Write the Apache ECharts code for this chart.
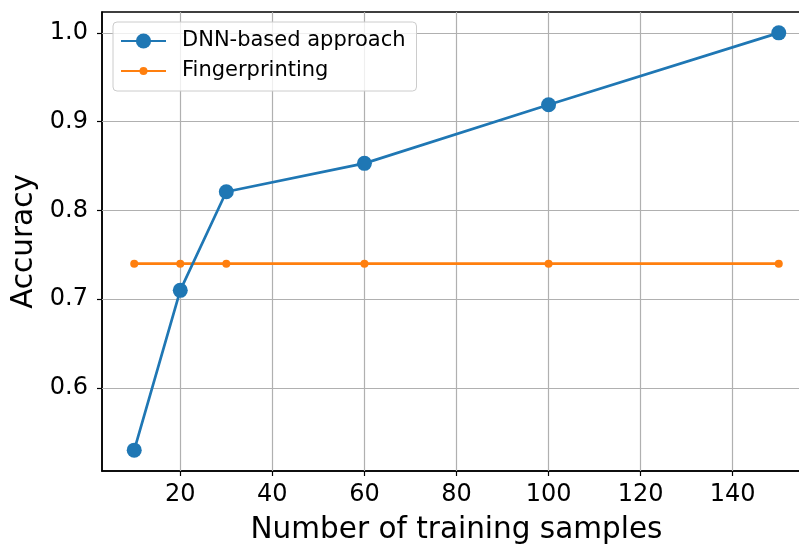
<!DOCTYPE html>
<html>
<head>
<meta charset="utf-8">
<script src="https://cdn.jsdelivr.net/npm/echarts@6/dist/echarts.min.js"></script>
<style>
html,body{margin:0;padding:0;background:#fff;}
#chart{width:799px;height:547px;}
</style>
</head>
<body>
<div id="chart"></div>
<script>
const trainingSamples = [10, 20, 30, 60, 100, 150];
const dnnAccuracy = [0.53, 0.71, 0.821, 0.853, 0.919, 1.0];
const fingerprintAccuracy = [0.74, 0.74, 0.74, 0.74, 0.74, 0.74];
const xTicks = [20, 40, 60, 80, 100, 120, 140];
const yTicks = [0.6, 0.7, 0.8, 0.9, 1.0];
const seriesNames = ['DNN-based approach', 'Fingerprinting'];

const FONT = 'DejaVu Sans';
const chart = echarts.init(document.getElementById('chart'), null, {renderer: 'canvas'});

function pairs(xs, ys) { return xs.map((x, i) => [x, ys[i]]); }

const legendText = {fontFamily: FONT, fontSize: 21, color: '#000', padding: [0, 0, 0, 11]};

const gridLines = xTicks.map(v => ({xAxis: v})).concat(yTicks.map(v => ({yAxis: v})));

chart.setOption({
  animation: false,
  backgroundColor: '#ffffff',
  grid: {
    left: 102, top: 12, width: 709, height: 459,
    outerBoundsMode: 'none', containLabel: false,
    show: true, borderColor: '#000000', borderWidth: 1.5, backgroundColor: 'transparent'
  },
  legend: [
    {
      orient: 'vertical',
      left: 113, top: 22,
      padding: [8.5, 11, 39.5, 7],
      itemWidth: 45, itemHeight: 19,
      backgroundColor: 'rgba(255,255,255,0.8)',
      borderColor: '#cccccc', borderWidth: 1, borderRadius: 4,
      textStyle: legendText,
      data: [seriesNames[0]],
      selectedMode: false, z: 5
    },
    {
      orient: 'vertical',
      left: 120, top: 60.5,
      padding: 0,
      itemWidth: 45, itemHeight: 10,
      textStyle: legendText,
      data: [seriesNames[1]],
      selectedMode: false, z: 6
    }
  ],
  xAxis: {
    type: 'value', min: 3, max: 157,
    name: 'Number of training samples', nameLocation: 'middle', nameGap: 44,
    nameTextStyle: {fontFamily: FONT, fontSize: 29.5, color: '#000'},
    axisLine: {show: true, onZero: false, lineStyle: {color: '#000', width: 1.5}},
    axisTick: {show: true, inside: false, length: 5, lineStyle: {color: '#000', width: 1.2}, customValues: xTicks},
    axisLabel: {fontFamily: FONT, fontSize: 24, color: '#000', margin: 12, customValues: xTicks, formatter: v => String(v)},
    splitLine: {show: false}
  },
  yAxis: {
    type: 'value', min: 0.5065, max: 1.0235,
    name: 'Accuracy', nameLocation: 'middle', nameGap: 60, nameRotate: 90,
    nameTextStyle: {fontFamily: FONT, fontSize: 29.5, color: '#000'},
    axisLine: {show: true, onZero: false, lineStyle: {color: '#000', width: 1.5}},
    axisTick: {show: true, inside: false, length: 5, lineStyle: {color: '#000', width: 1.2}, customValues: yTicks},
    axisLabel: {fontFamily: FONT, fontSize: 24, color: '#000', margin: 14, customValues: yTicks, formatter: v => v.toFixed(1)},
    splitLine: {show: false}
  },
  series: [
    {
      name: 'grid', type: 'line', data: [], z: 1, silent: true,
      markLine: {
        silent: true, symbol: ['none', 'none'], label: {show: false},
        lineStyle: {color: '#b0b0b0', width: 1.2, type: 'solid'},
        emphasis: {disabled: true},
        data: gridLines, z: 1
      }
    },
    {
      name: seriesNames[0], type: 'line', data: pairs(trainingSamples, dnnAccuracy),
      symbol: 'circle', symbolSize: 15, z: 3,
      lineStyle: {color: '#1f77b4', width: 2.7},
      itemStyle: {color: '#1f77b4', borderWidth: 0}
    },
    {
      name: seriesNames[1], type: 'line', data: pairs(trainingSamples, fingerprintAccuracy),
      symbol: 'circle', symbolSize: 8, z: 2,
      lineStyle: {color: '#ff7f0e', width: 2.7},
      itemStyle: {color: '#ff7f0e', borderWidth: 0}
    }
  ]
});
</script>
</body>
</html>
